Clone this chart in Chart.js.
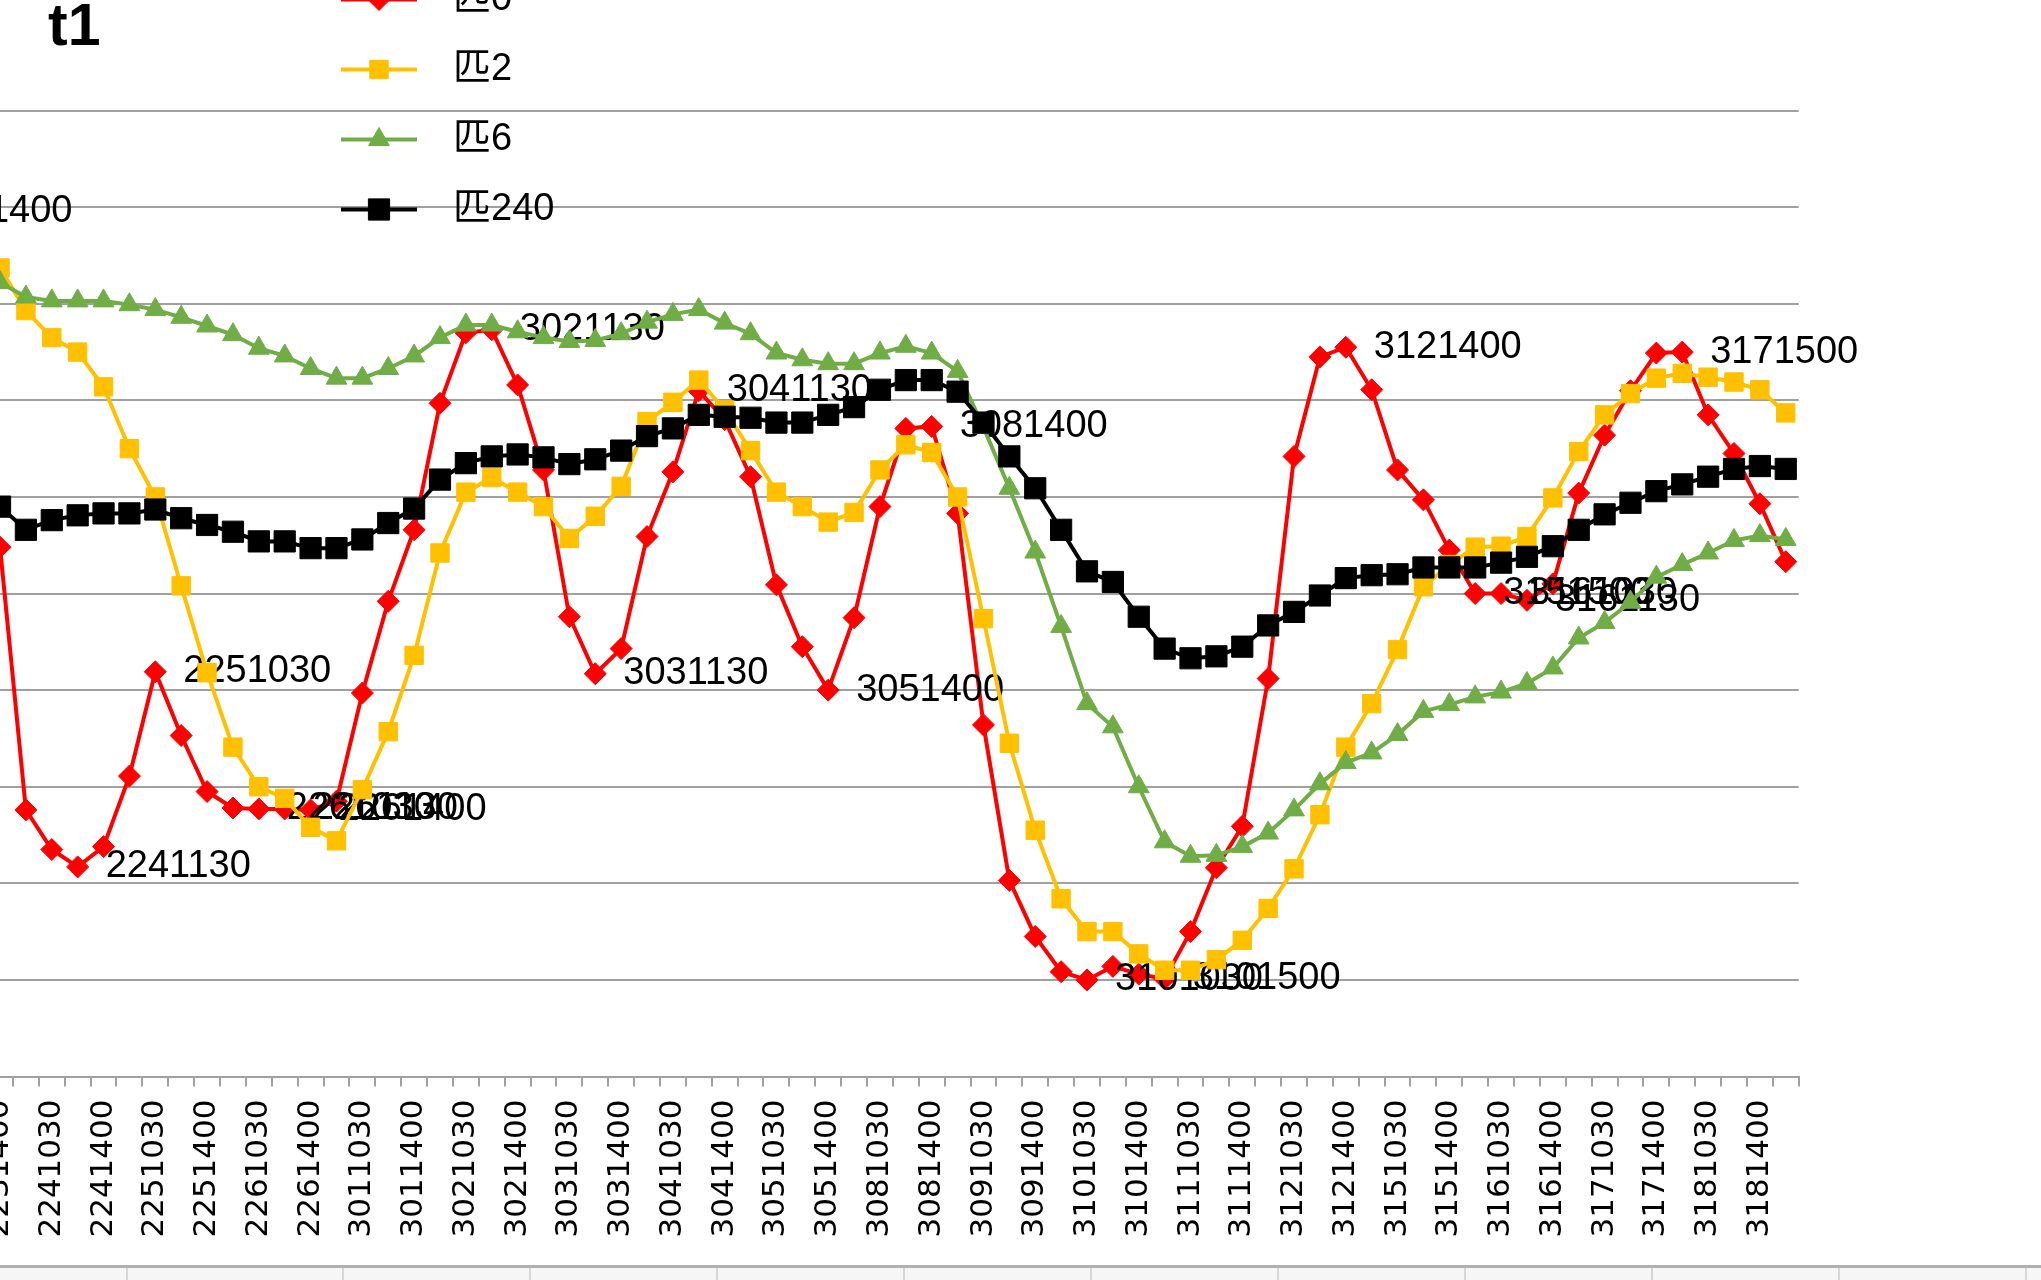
<!DOCTYPE html>
<html>
<head>
<meta charset="utf-8">
<script src="https://cdn.jsdelivr.net/npm/chart.js@4.4.1/dist/chart.umd.min.js"></script>
<style>
  html, body { margin: 0; padding: 0; background: #fff; overflow: hidden; }
  body { width: 2041px; height: 1280px; position: relative; }
  #chart { position: absolute; left: -200px; top: 0; }
  .sheet { position: absolute; left: 0; top: 1265px; width: 2041px; height: 3px; background: #b0b0b0; }
  .cells { position: absolute; left: 0; top: 1268px; width: 2041px; height: 12px; background: #f6f6f6; }
  .col { position: absolute; top: 1268px; width: 2px; height: 12px; background: #d6d6d6; }
</style>
</head>
<body>
<canvas id="chart" width="2241" height="1280"></canvas>
<div class="sheet"></div>
<div class="cells"></div>
<script>
// categories: day + time (the first four lie left of the visible area)
var categories = [
  '2221400', '2221500', '2231030', '2231130', '2231400', '2231500',
  '2241030', '2241130', '2241400', '2241500',
  '2251030', '2251130', '2251400', '2251500',
  '2261030', '2261130', '2261400', '2261500',
  '3011030', '3011130', '3011400', '3011500',
  '3021030', '3021130', '3021400', '3021500',
  '3031030', '3031130', '3031400', '3031500',
  '3041030', '3041130', '3041400', '3041500',
  '3051030', '3051130', '3051400', '3051500',
  '3081030', '3081130', '3081400', '3081500',
  '3091030', '3091130', '3091400', '3091500',
  '3101030', '3101130', '3101400', '3101500',
  '3111030', '3111130', '3111400', '3111500',
  '3121030', '3121130', '3121400', '3121500',
  '3151030', '3151130', '3151400', '3151500',
  '3161030', '3161130', '3161400', '3161500',
  '3171030', '3171130', '3171400', '3171500',
  '3181030', '3181130', '3181400', '3181500'
];

var seriesNames = ['匹0', '匹2', '匹6', '匹240'];

var pi0 = [8.96, 8.4, 7.6, 6.6,
  5.48, 2.76, 2.35, 2.17, 2.38, 3.11, 4.19, 3.53, 2.95, 2.78,
  2.77, 2.77, 2.76, 2.85, 3.97, 4.92, 5.66, 6.97, 7.70, 7.73,
  7.16, 6.28, 4.76, 4.17, 4.43, 5.59, 6.26, 7.10, 6.80, 6.21,
  5.09, 4.45, 4.00, 4.75, 5.90, 6.71, 6.73, 5.83, 3.64, 2.03,
  1.45, 1.085, 1.00, 1.14, 1.06, 1.01, 1.50, 2.16, 2.59, 4.12,
  6.42, 7.45, 7.55, 7.11, 6.28, 5.97, 5.45, 5.00, 5.00, 4.93,
  5.10, 6.04, 6.64, 7.10, 7.49, 7.50, 6.85, 6.45, 5.93, 5.33];

var pi2 = [8.65, 8.6, 8.55, 8.5,
  8.37, 7.93, 7.65, 7.50, 7.14, 6.50, 6.00, 5.08, 4.18, 3.41,
  3.00, 2.88, 2.58, 2.44, 2.97, 3.57, 4.36, 5.42, 6.05, 6.20,
  6.05, 5.90, 5.57, 5.80, 6.11, 6.78, 6.98, 7.21, 6.90, 6.48,
  6.05, 5.90, 5.74, 5.84, 6.28, 6.54, 6.46, 6.00, 4.74, 3.45,
  2.55, 1.84, 1.50, 1.50, 1.27, 1.10, 1.10, 1.21, 1.41, 1.74,
  2.15, 2.71, 3.41, 3.86, 4.42, 5.07, 5.30, 5.48, 5.49, 5.59,
  5.99, 6.47, 6.85, 7.07, 7.23, 7.28, 7.24, 7.19, 7.11, 6.87];

var pi6 = [8.45, 8.45, 8.42, 8.35,
  8.22, 8.07, 8.03, 8.03, 8.03, 7.99, 7.94, 7.86, 7.77, 7.68,
  7.54, 7.46, 7.33, 7.23, 7.23, 7.33, 7.46, 7.65, 7.78, 7.78,
  7.71, 7.65, 7.61, 7.62, 7.69, 7.81, 7.89, 7.94, 7.80, 7.69,
  7.49, 7.42, 7.38, 7.38, 7.49, 7.56, 7.49, 7.30, 6.72, 6.09,
  5.43, 4.66, 3.86, 3.62, 3.00, 2.43, 2.28, 2.29, 2.38, 2.52,
  2.76, 3.03, 3.25, 3.35, 3.54, 3.78, 3.85, 3.93, 3.98, 4.07,
  4.23, 4.54, 4.70, 4.91, 5.17, 5.30, 5.42, 5.55, 5.60, 5.56];

var pi240 = [5.95, 5.95, 5.92, 5.93,
  5.90, 5.66, 5.76, 5.81, 5.83, 5.83, 5.87, 5.78, 5.71, 5.64,
  5.54, 5.54, 5.47, 5.47, 5.56, 5.73, 5.88, 6.18, 6.35, 6.42,
  6.44, 6.41, 6.34, 6.39, 6.48, 6.63, 6.71, 6.85, 6.83, 6.82,
  6.77, 6.77, 6.85, 6.93, 7.11, 7.21, 7.21, 7.09, 6.77, 6.42,
  6.09, 5.66, 5.23, 5.12, 4.76, 4.43, 4.33, 4.35, 4.45, 4.67,
  4.81, 4.98, 5.16, 5.19, 5.20, 5.27, 5.27, 5.27, 5.32, 5.38,
  5.49, 5.66, 5.82, 5.94, 6.06, 6.13, 6.21, 6.29, 6.32, 6.29];

// points of 匹0 that carry a data label
var labelled = ['2221400', '2241130', '2251030', '2261030', '2261130', '2261400',
  '3021130', '3031130', '3041130', '3051400', '3081400', '3101030', '3101500',
  '3121400', '3151500', '3161030', '3161130', '3171500'];

var SHIFT = 200;   // canvas starts 200px left of the page
var labelFont = '38px "Liberation Sans", "Noto Sans CJK SC", sans-serif';

// spreadsheet column lines under the chart
[126, 342, 529, 716, 903, 1090, 1277, 1464, 1651, 1838, 2025].forEach(function (x) {
    var d = document.createElement('div');
    d.className = 'col';
    d.style.left = x + 'px';
    document.body.appendChild(d);
});

var redLabels = {
    id: 'redLabels',
    afterDatasetDraw: function (chart, args) {
        if (args.index !== 0) return;
        var ctx = chart.ctx;
        ctx.save();
        ctx.font = labelFont;
        ctx.fillStyle = '#000';
        ctx.textBaseline = 'middle';
        labelled.forEach(function (name) {
            var pt = args.meta.data[categories.indexOf(name)];
            ctx.fillText(name, pt.x + 28, pt.y);
        });
        ctx.restore();
    }
};

var titleAndLegend = {
    id: 'titleAndLegend',
    afterDraw: function (chart) {
        var ctx = chart.ctx;
        ctx.save();
        ctx.fillStyle = '#000';
        ctx.font = 'bold 59px "Liberation Sans", sans-serif';
        ctx.textBaseline = 'alphabetic';
        ctx.fillText('t1', 48 + SHIFT, 45);

        chart.data.datasets.forEach(function (ds, i) {
            var y = -0.5 + i * 70;
            ctx.strokeStyle = ds.borderColor;
            ctx.lineWidth = 4;
            ctx.beginPath();
            ctx.moveTo(341 + SHIFT, y);
            ctx.lineTo(417 + SHIFT, y);
            ctx.stroke();
            ctx.fillStyle = ds.borderColor;
            ctx.lineWidth = 1;
            Chart.helpers.drawPoint(ctx, {pointStyle: ds.pointStyle, radius: ds.pointRadius, rotation: 0, borderWidth: 1}, 379 + SHIFT, y);
            ctx.fillStyle = '#000';
            ctx.font = labelFont;
            ctx.textBaseline = 'middle';
            ctx.fillText(ds.label, 453 + SHIFT, y);
        });
        ctx.restore();
    }
};

function series(name, values, color, style, radius, order) {
    return {
        label: name,
        data: values,
        borderColor: color,
        backgroundColor: color,
        pointBackgroundColor: color,
        pointBorderColor: color,
        borderWidth: 4,
        pointStyle: style,
        pointRadius: radius,
        pointBorderWidth: 1,
        tension: 0,
        order: order
    };
}

new Chart(document.getElementById('chart'), {
    type: 'line',
    data: {
        labels: categories,
        datasets: [
            series(seriesNames[0], pi0, '#FF0000', 'rectRot', 11, 4),
            series(seriesNames[1], pi2, '#FFC000', 'rect', 13, 3),
            series(seriesNames[2], pi6, '#70AD47', 'triangle', 12, 2),
            series(seriesNames[3], pi240, '#000000', 'rect', 15, 1)
        ]
    },
    options: {
        responsive: false,
        animation: false,
        devicePixelRatio: 1,
        events: [],
        layout: {padding: {left: 83.56, right: 242.3, top: 110.6, bottom: 0}},
        plugins: {
            legend: {display: false},
            title: {display: false},
            tooltip: {enabled: false}
        },
        scales: {
            x: {
                offset: true,
                grid: {offset: true, drawOnChartArea: false, drawTicks: true, tickLength: 10, color: '#a0a0a0', lineWidth: 2},
                border: {color: '#a0a0a0', width: 2},
                ticks: {
                    autoSkip: false,
                    minRotation: 90,
                    maxRotation: 90,
                    padding: 13,
                    color: '#000',
                    font: {family: '"DejaVu Sans", sans-serif', size: 31},
                    callback: function (v, i) { return i % 2 === 0 ? categories[i] : ''; }
                },
                afterFit: function (s) { s.height = 1280 - 1076.5; }
            },
            y: {
                min: 0,
                max: 10,
                ticks: {display: false, stepSize: 1},
                grid: {color: '#a0a0a0', lineWidth: 2, drawTicks: false},
                border: {display: false},
                afterFit: function (s) { s.width = 0; }
            }
        }
    },
    plugins: [redLabels, titleAndLegend]
});
</script>
</body>
</html>
